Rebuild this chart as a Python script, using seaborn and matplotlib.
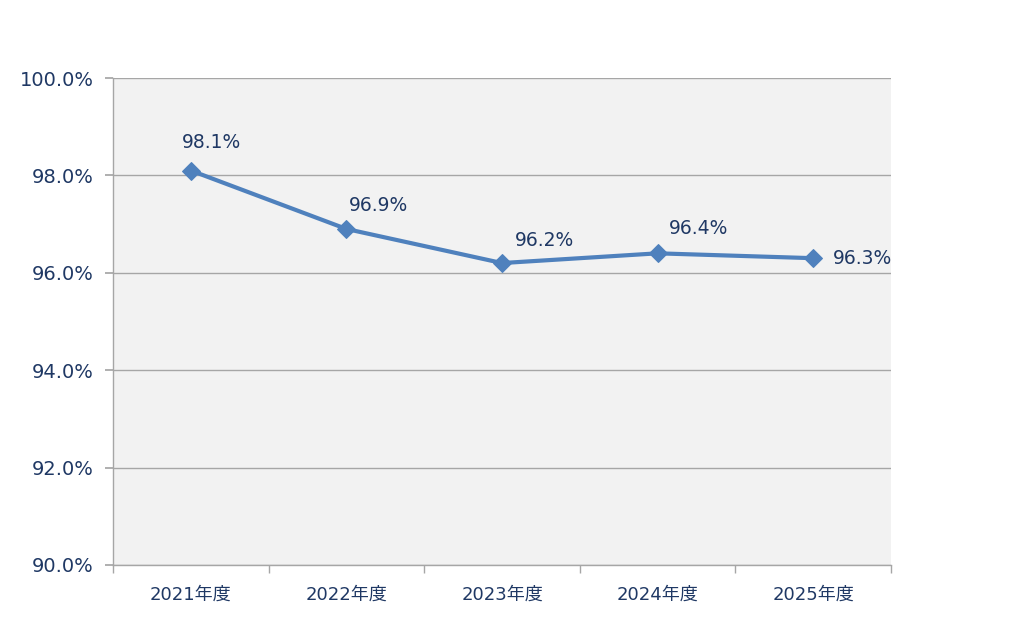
import pandas as pd
import matplotlib.pyplot as plt
import seaborn as sns
import numpy as np

# データ
years = ['2021年度', '2022年度', '2023年度', '2024年度', '2025年度']
rates = [98.1, 96.9, 96.2, 96.4, 96.3]
y_ticks = [90, 92, 94, 96, 98, 100]

# ラベル位置のずらし (ピクセル)
label_dx = [-9, 2, 13, 11, 20]
label_dy = [28, 23, 23, 25, 0]

text_color = '#1F3864'
line_color = '#4F81BD'
grid_color = '#A6A6A6'

sns.set_theme(style='white')
plt.rcParams['font.family'] = ['DejaVu Sans', 'Noto Sans CJK JP']

df = pd.DataFrame({'year': years, 'rate': rates})
df['x'] = np.arange(len(years))

fig = plt.figure(figsize=(10.24, 6.28), dpi=100)
ax = fig.add_axes([113 / 1024, 63 / 628, 778 / 1024, 487 / 628])
ax.set_facecolor('#F2F2F2')

sns.lineplot(data=df, x='x', y='rate', ax=ax, color=line_color, linewidth=3,
             marker='D', markersize=9, markeredgecolor=line_color, zorder=3)

ax.set_xlim(-0.5, len(years) - 0.5)
ax.set_ylim(90, 100)
ax.set_yticks(y_ticks)
ax.set_yticklabels([f'{v:.1f}%' for v in y_ticks])
ax.set_xticks(df['x'])
ax.set_xticklabels(years)
ax.set_xticks(np.arange(-0.5, len(years)), minor=True)
ax.set_xlabel('')
ax.set_ylabel('')

ax.yaxis.grid(True, color=grid_color, linewidth=1)
ax.set_axisbelow(True)
for s in ['top', 'right']:
    ax.spines[s].set_visible(False)
for s in ['left', 'bottom']:
    ax.spines[s].set_color(grid_color)
    ax.spines[s].set_linewidth(1)

ax.tick_params(axis='y', which='major', length=6, color=grid_color, left=True,
               labelsize=14, labelcolor=text_color, pad=8)
ax.tick_params(axis='x', which='major', length=0, labelsize=13,
               labelcolor=text_color, pad=15)
ax.tick_params(axis='x', which='minor', length=6, color=grid_color, bottom=True)

for i, (xv, yv) in enumerate(zip(df['x'], df['rate'])):
    ax.annotate(f'{yv:.1f}%', (xv, yv), xytext=(label_dx[i], label_dy[i]),
                textcoords='offset pixels', ha='left', va='center',
                fontsize=13.5, color=text_color, zorder=4)

fig.savefig('out.png', dpi=100)
